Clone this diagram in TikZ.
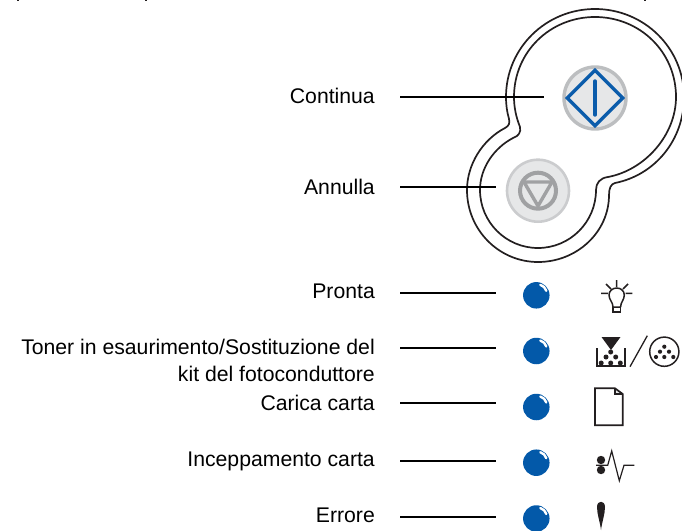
\documentclass[tikz,border=0pt]{standalone}
\usepackage{fontspec}
\setmainfont{Liberation Sans}
\definecolor{ledblue}{HTML}{0359A9}
\definecolor{btnblue}{HTML}{0B5CAB}
\definecolor{ink}{HTML}{231F20}
\definecolor{btnfill}{HTML}{E6E7E8}
\definecolor{ringa}{HTML}{BCBEC0}
\definecolor{ringb}{HTML}{CBCCCE}
\definecolor{symgrey}{HTML}{A0A1A3}
\tikzset{
  lab/.style={anchor=base east,inner sep=0pt,align=right,text=black,font=\fontsize{21.2}{27}\selectfont},
  leader/.style={draw=black,line width=1.9pt},
  outline/.style={draw=ink,line width=1.7pt},
  led/.style={circle,fill=ledblue,minimum size=26.5pt,inner sep=0pt},
  icon/.style={draw=ink,line width=1.5pt},
}
\begin{document}
\begin{tikzpicture}[x=1pt,y=-1pt]
\useasboundingbox (0,0) rectangle (682,530);
\clip (0,0) rectangle (682,530);
% cut-off specks at the top
\fill[ink] (17.4,0) rectangle (19,1.2);
\fill[ink] (145.4,0) rectangle (147,1.2);
\fill[ink] (644.2,0) rectangle (645.8,1.2);
% housing outlines
\draw[outline] (506,97) .. controls (506,48) and (546,9) .. (595,9)
  .. controls (644,9) and (684,48) .. (684,97)
  .. controls (684,140) and (655,175) .. (615,183)
  .. controls (611,184) and (609,188) .. (609,195)
  .. controls (609,232) and (577,262) .. (538,262)
  .. controls (499,262) and (467,230) .. (467,190)
  .. controls (467,165) and (482,140) .. (505,128)
  .. controls (509,126) and (510,123) .. (509,119)
  .. controls (507,112) and (506,105) .. (506,97) -- cycle;
\draw[outline] (514,97) .. controls (514,52) and (550,17) .. (595,17)
  .. controls (640,17) and (676,52) .. (676,97)
  .. controls (676,135) and (645,170) .. (608,177)
  .. controls (600,178) and (596,183) .. (596,190)
  .. controls (596,222) and (570,248) .. (538,248)
  .. controls (506,248) and (480,222) .. (480,190)
  .. controls (480,168) and (494,148) .. (513,138)
  .. controls (519,136) and (521,132) .. (520,127)
  .. controls (516,117) and (514,107) .. (514,97) -- cycle;
% buttons
\node[circle,draw=ringa,fill=btnfill,line width=3.4pt,minimum size=62pt,inner sep=0pt] (go) at (595,98) {};
\draw[btnblue,line width=3.4pt,line join=miter] (567.3,98) -- (595,70.3) -- (622.7,98) -- (595,125.7) -- cycle;
\draw[btnblue,line width=3.4pt,line cap=round] (595,81) -- (595,115);
\node[circle,draw=ringb,fill=btnfill,line width=2.6pt,minimum size=62pt,inner sep=0pt] (stop) at (538,190.7) {};
\draw[symgrey,line width=4pt] (538,190.7) circle (18pt);
\draw[symgrey,line width=3.4pt,line join=round] (524,182) -- (552,182) -- (538,206) -- cycle;
% labels
\node[lab] (l1) at (375,103) {Continua};
\node[lab] (l2) at (375,194) {Annulla};
\node[lab] (l3) at (375,298) {Pronta};
\node[lab] (l4a) at (375,354) {Toner in esaurimento/Sostituzione del};
\node[lab] (l4b) at (375,381) {kit del fotoconduttore};
\node[lab] (l5) at (375,410) {Carica carta};
\node[lab] (l6) at (375,466) {Inceppamento carta};
\node[lab] (l7) at (375,522) {Errore};
% leader lines
\foreach \n/\y/\xe in {a/97/544,b/187/496,c/293/496,d/348/496,e/403/496,f/461/496,g/517/496}{
  \coordinate (s\n) at (400,\y);
  \coordinate (t\n) at (\xe,\y);
  \draw[leader] (s\n) -- (t\n);
}
% LEDs
\foreach \n/\y in {1/295.3,2/351,3/407,4/462.7,5/518.5}{
  \node[led] (led\n) at (536.3,\y) {};
  \draw[white,line width=2.4pt,line cap=round] ([shift={(4,-10.5)}]led\n.center) .. controls ([shift={(7,-9.5)}]led\n.center) and ([shift={(9,-7.5)}]led\n.center) .. ([shift={(10,-4.5)}]led\n.center);
}
% bulb icon
\draw[icon] (601,293.3) -- (608,293.3) (625.5,293.3) -- (632.3,293.3) (616.7,280) -- (616.7,287)
  (606,284) -- (611,289) (628,284) -- (623,289);
\draw[icon,line join=round] (613,307) .. controls (613,302) and (609,300) .. (609,295)
  .. controls (609,291) and (612.5,288) .. (616.7,288)
  .. controls (621,288) and (624.3,291) .. (624.3,295)
  .. controls (624.3,300) and (620.6,302) .. (620.6,307) -- cycle;
\draw[icon] (613,307) -- (613,312) -- (620.6,312) -- (620.6,307);
% toner icon
\fill[ink] (601.5,337) -- (620.5,337) -- (611,350) -- cycle;
\draw[icon] (597,348) -- (597,366) -- (625,366) -- (625,348);
\foreach \p in {(610.7,352),(606,357),(615.7,357),(601.2,363),(610.7,363),(620.3,363)}
  \fill[ink] \p circle (2.5pt);
\draw[icon,line width=1.3pt] (630,366.7) -- (647.3,335.7);
\draw[icon] (664.3,351.7) circle (14.6pt);
\foreach \p in {(664.3,346.7),(660,351.7),(669,351.7),(656,357),(664.3,357),(673.3,357)}
  \fill[ink] \p circle (2.1pt);
% paper icon
\fill[btnfill] (615,388.3) -- (615,394) -- (622.7,394) -- cycle;
\draw[icon,line join=miter,line width=1.7pt] (595,388.3) -- (615,388.3) -- (622.7,394) -- (622.7,425.3) -- (595,425.3) -- cycle;
\draw[icon,line width=1.2pt] (615,388.3) -- (615,394) -- (622.7,394);
% jam icon
\fill[ink] (601,460) circle (4.2pt) (601,470) circle (4.2pt);
\draw[icon,line width=1.2pt,line join=miter] (596,465.3) -- (607.7,465.3) -- (611.7,451) -- (619.3,480.7) -- (624,465.3) -- (634.3,465.3);
% error icon
\fill[ink] (601,530) .. controls (600,522) and (597,514) .. (597,507)
  .. controls (597,500) and (605,500) .. (605,507)
  .. controls (605,514) and (602,522) .. (601,530) -- cycle;
\end{tikzpicture}
\end{document}
